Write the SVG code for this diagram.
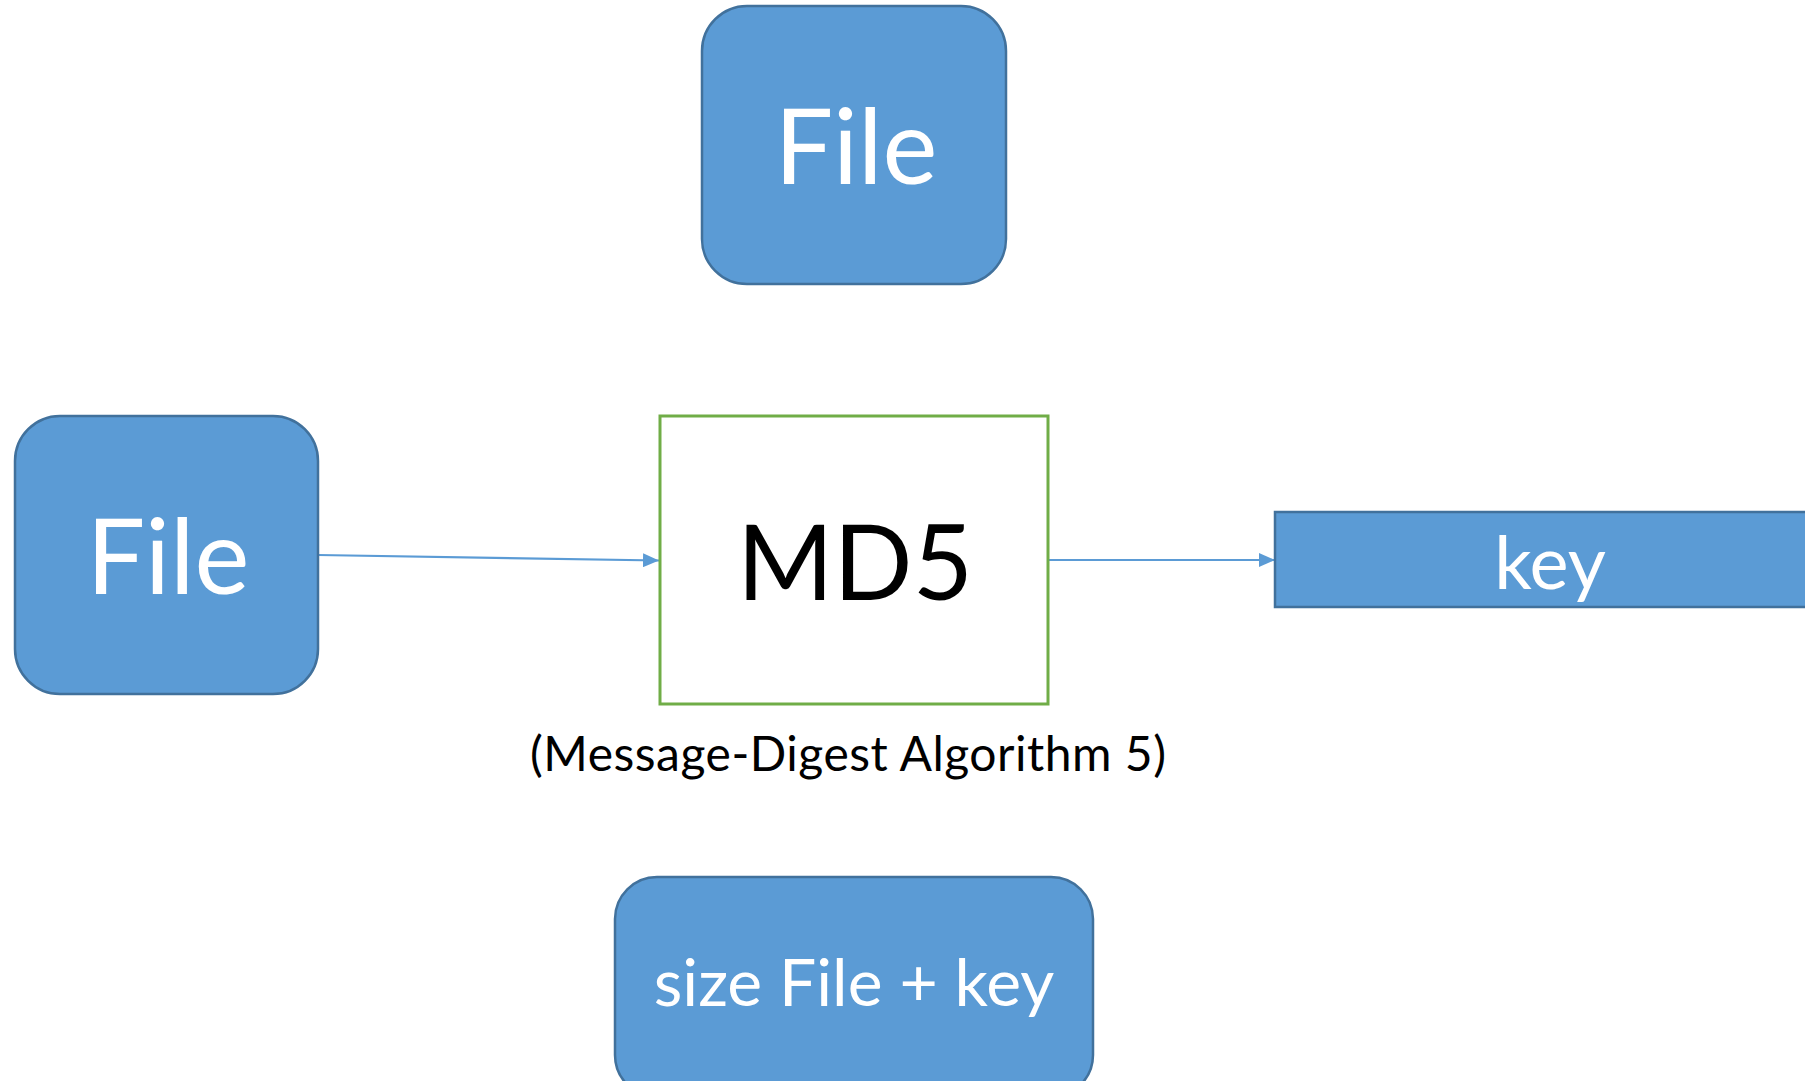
<svg xmlns="http://www.w3.org/2000/svg" width="1805" height="1081" viewBox="0 0 1805 1081">
  <style>
    .blue { fill: #5B9BD5; stroke: #41719C; stroke-width: 2.5; }
    .proc { fill: #FFFFFF; stroke: #70AD47; stroke-width: 3; }
    .wt { fill: #FFFFFF; font-family: Lato, "Open Sans", "Liberation Sans", sans-serif; text-anchor: middle; }
    .bk { fill: #000000; font-family: Lato, "Open Sans", "Liberation Sans", sans-serif; text-anchor: middle; }
    .conn { stroke: #5B9BD5; stroke-width: 2.2; fill: none; }
  </style>
  <defs>
    <marker id="arrow" viewBox="0 0 16 14" refX="16" refY="7" markerWidth="16" markerHeight="14" markerUnits="userSpaceOnUse" orient="auto">
      <path d="M0,0 L16,7 L0,14 Z" fill="#5B9BD5"/>
    </marker>
  </defs>
  <rect width="1805" height="1081" fill="#FFFFFF"/>

  <g id="connectors">
    <path class="conn" d="M318,555 L659,560.5" marker-end="url(#arrow)"/>
    <path class="conn" d="M1048,560 L1275,560" marker-end="url(#arrow)"/>
  </g>

  <g id="file-top">
    <rect class="blue" x="702" y="6" width="304" height="278" rx="45" ry="45"/>
    <text class="wt" x="856" y="184" font-size="104">File</text>
  </g>

  <g id="file-left">
    <rect class="blue" x="15" y="416" width="303" height="278" rx="45" ry="45"/>
    <text class="wt" x="168" y="594" font-size="104">File</text>
  </g>

  <g id="md5">
    <rect class="proc" x="660" y="416" width="388" height="288"/>
    <text class="bk" x="855" y="600" font-size="104">MD5</text>
  </g>

  <g id="caption">
    <text class="bk" x="848" y="771" font-size="48" textLength="636">(Message-Digest Algorithm 5)</text>
  </g>

  <g id="key">
    <rect class="blue" x="1275" y="512" width="540" height="95"/>
    <text class="wt" x="1550" y="589" font-size="74">key</text>
  </g>

  <g id="size-file-key">
    <rect class="blue" x="615" y="877" width="478" height="220" rx="42" ry="42"/>
    <text class="wt" x="854" y="1006" font-size="66">size File + key</text>
  </g>
</svg>
